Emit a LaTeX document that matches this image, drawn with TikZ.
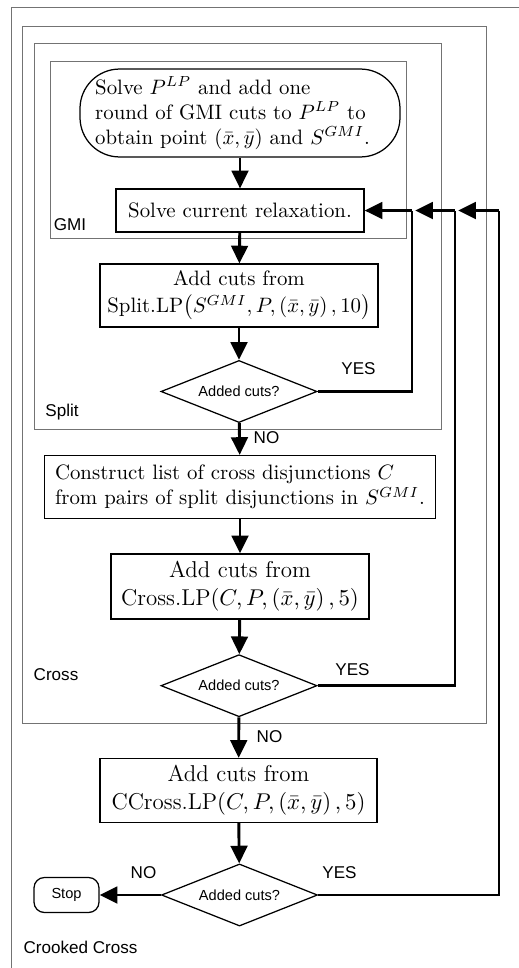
\documentclass[tikz,border=0pt]{standalone}
\usepackage{amsmath, amssymb}
\usepackage{fontspec}
\newfontfamily\labelfont{Liberation Sans}
\usepackage{tikz}
\usetikzlibrary{arrows.meta}
\usetikzlibrary{shapes.geometric}

\begin{document}
\begin{tikzpicture}[x=0.48pt, y=-0.48pt,
                    frame/.style={draw=black!55, line width=0.4pt},
                    stepbox/.style={draw, line width=0.6pt, align=center, inner sep=2pt},
                    decision/.style={diamond, draw, line width=0.6pt, inner sep=0pt, aspect=2.5,
                                     minimum width=74.9pt, minimum height=29.8pt,
                                     font=\labelfont\fontsize{7}{8}\selectfont},
                    lbl/.style={font=\labelfont\fontsize{8.2}{9.5}\selectfont, inner sep=0pt},
                    flow/.style={-{Triangle[length=8.5pt, width=8pt]}, line width=1.4pt},
                    loop/.style={line width=1.4pt}]
        \useasboundingbox (0,0) rectangle (518,968);
        \draw[frame] (11,7) rectangle (540,990);
        \draw[frame] (22,26) rectangle (486,723);
        \draw[frame] (34,43) rectangle (441,429);
        \draw[frame] (50,61) rectangle (406,238);

        \node[stepbox, rounded corners=19pt, align=left, text width=139pt, inner xsep=7.3pt,
              minimum width=153.6pt, minimum height=42.2pt] (start) at (240,113)
              {Solve $P^{LP}$ and add one\\ round of GMI cuts to $P^{LP}$ to\\ obtain point $(\bar{x},\bar{y})$ and $S^{GMI}$.};
        \node[stepbox, minimum width=119pt, minimum height=20.6pt] (solve) at (240,210.5)
              {Solve current relaxation.};
        \node[stepbox, minimum width=133.4pt, minimum height=30.2pt] (splitlp) at (239,295.5)
              {Add cuts from\\[1pt] Split.LP$\bigl(S^{GMI},P,(\bar{x},\bar{y})\,,10\bigr)$};
        \node[decision] (dsplit) at (239,391.5) {Added cuts?};
        \node[stepbox, align=left, inner xsep=5pt,
              minimum width=179.5pt, minimum height=30.2pt] (construct) at (240,487)
              {Construct list of cross disjunctions $C$\\ from pairs of split disjunctions in $S^{GMI}$.};
        \node[stepbox, font=\fontsize{11}{13.5}\selectfont, minimum width=123.8pt, minimum height=31.2pt]
              (crosslp) at (240,586.4)
              {Add cuts from\\ Cross.LP$(C,P,(\bar{x},\bar{y})\,,5)$};
        \node[decision] (dcross) at (239,685.7) {Added cuts?};
        \node[stepbox, font=\fontsize{11}{13.5}\selectfont, minimum width=133pt, minimum height=30.7pt]
              (ccrosslp) at (238.5,790.5)
              {Add cuts from\\ CCross.LP$(C,P,(\bar{x},\bar{y})\,,5)$};
        \node[decision] (dccross) at (239.5,895) {Added cuts?};
        \node[stepbox, rounded corners=5pt, font=\labelfont\fontsize{7}{8}\selectfont,
              minimum width=31.2pt, minimum height=16.8pt] (stop) at (66.5,895) {Stop};

        \node[lbl] (gmilbl) at (70,225) {GMI};
        \node[lbl] (splitlbl) at (62,412) {Split};
        \node[lbl] (crosslbl) at (56,674.6) {Cross};
        \node[lbl] (crookedlbl) at (80.5,947.7) {Crooked Cross};
        \node[lbl] (yes1) at (358.5,369) {YES};
        \node[lbl] (yes2) at (352.5,670) {YES};
        \node[lbl] (yes3) at (339.5,872.7) {YES};
        \node[lbl] (no1) at (266.5,438) {NO};
        \node[lbl] (no2) at (269.5,737) {NO};
        \node[lbl] (no3) at (143.5,872.7) {NO};

        \coordinate (lp1) at (412,210.5);
        \coordinate (lp2) at (455,210.5);
        \coordinate (lp3) at (499,210.5);

        \draw[flow] (start) -- (solve);
        \draw[flow] (solve) -- (splitlp);
        \draw[flow] (splitlp) -- (dsplit);
        \draw[flow] (dsplit) -- (construct);
        \draw[flow] (construct) -- (crosslp);
        \draw[flow] (crosslp) -- (dcross);
        \draw[flow] (dcross) -- (ccrosslp);
        \draw[flow] (ccrosslp) -- (dccross);
        \draw[flow] (dccross) -- (stop);
        \draw[loop] (dsplit.east) -| (lp1);
        \draw[flow] (lp1) -- (solve.east);
        \draw[loop] (dcross.east) -| (lp2);
        \draw[flow, shorten >=1.5pt] (lp2) -- (lp1);
        \draw[loop] (dccross.east) -| (lp3);
        \draw[flow, shorten >=1.5pt] (lp3) -- (lp2);
\end{tikzpicture}
\end{document}
